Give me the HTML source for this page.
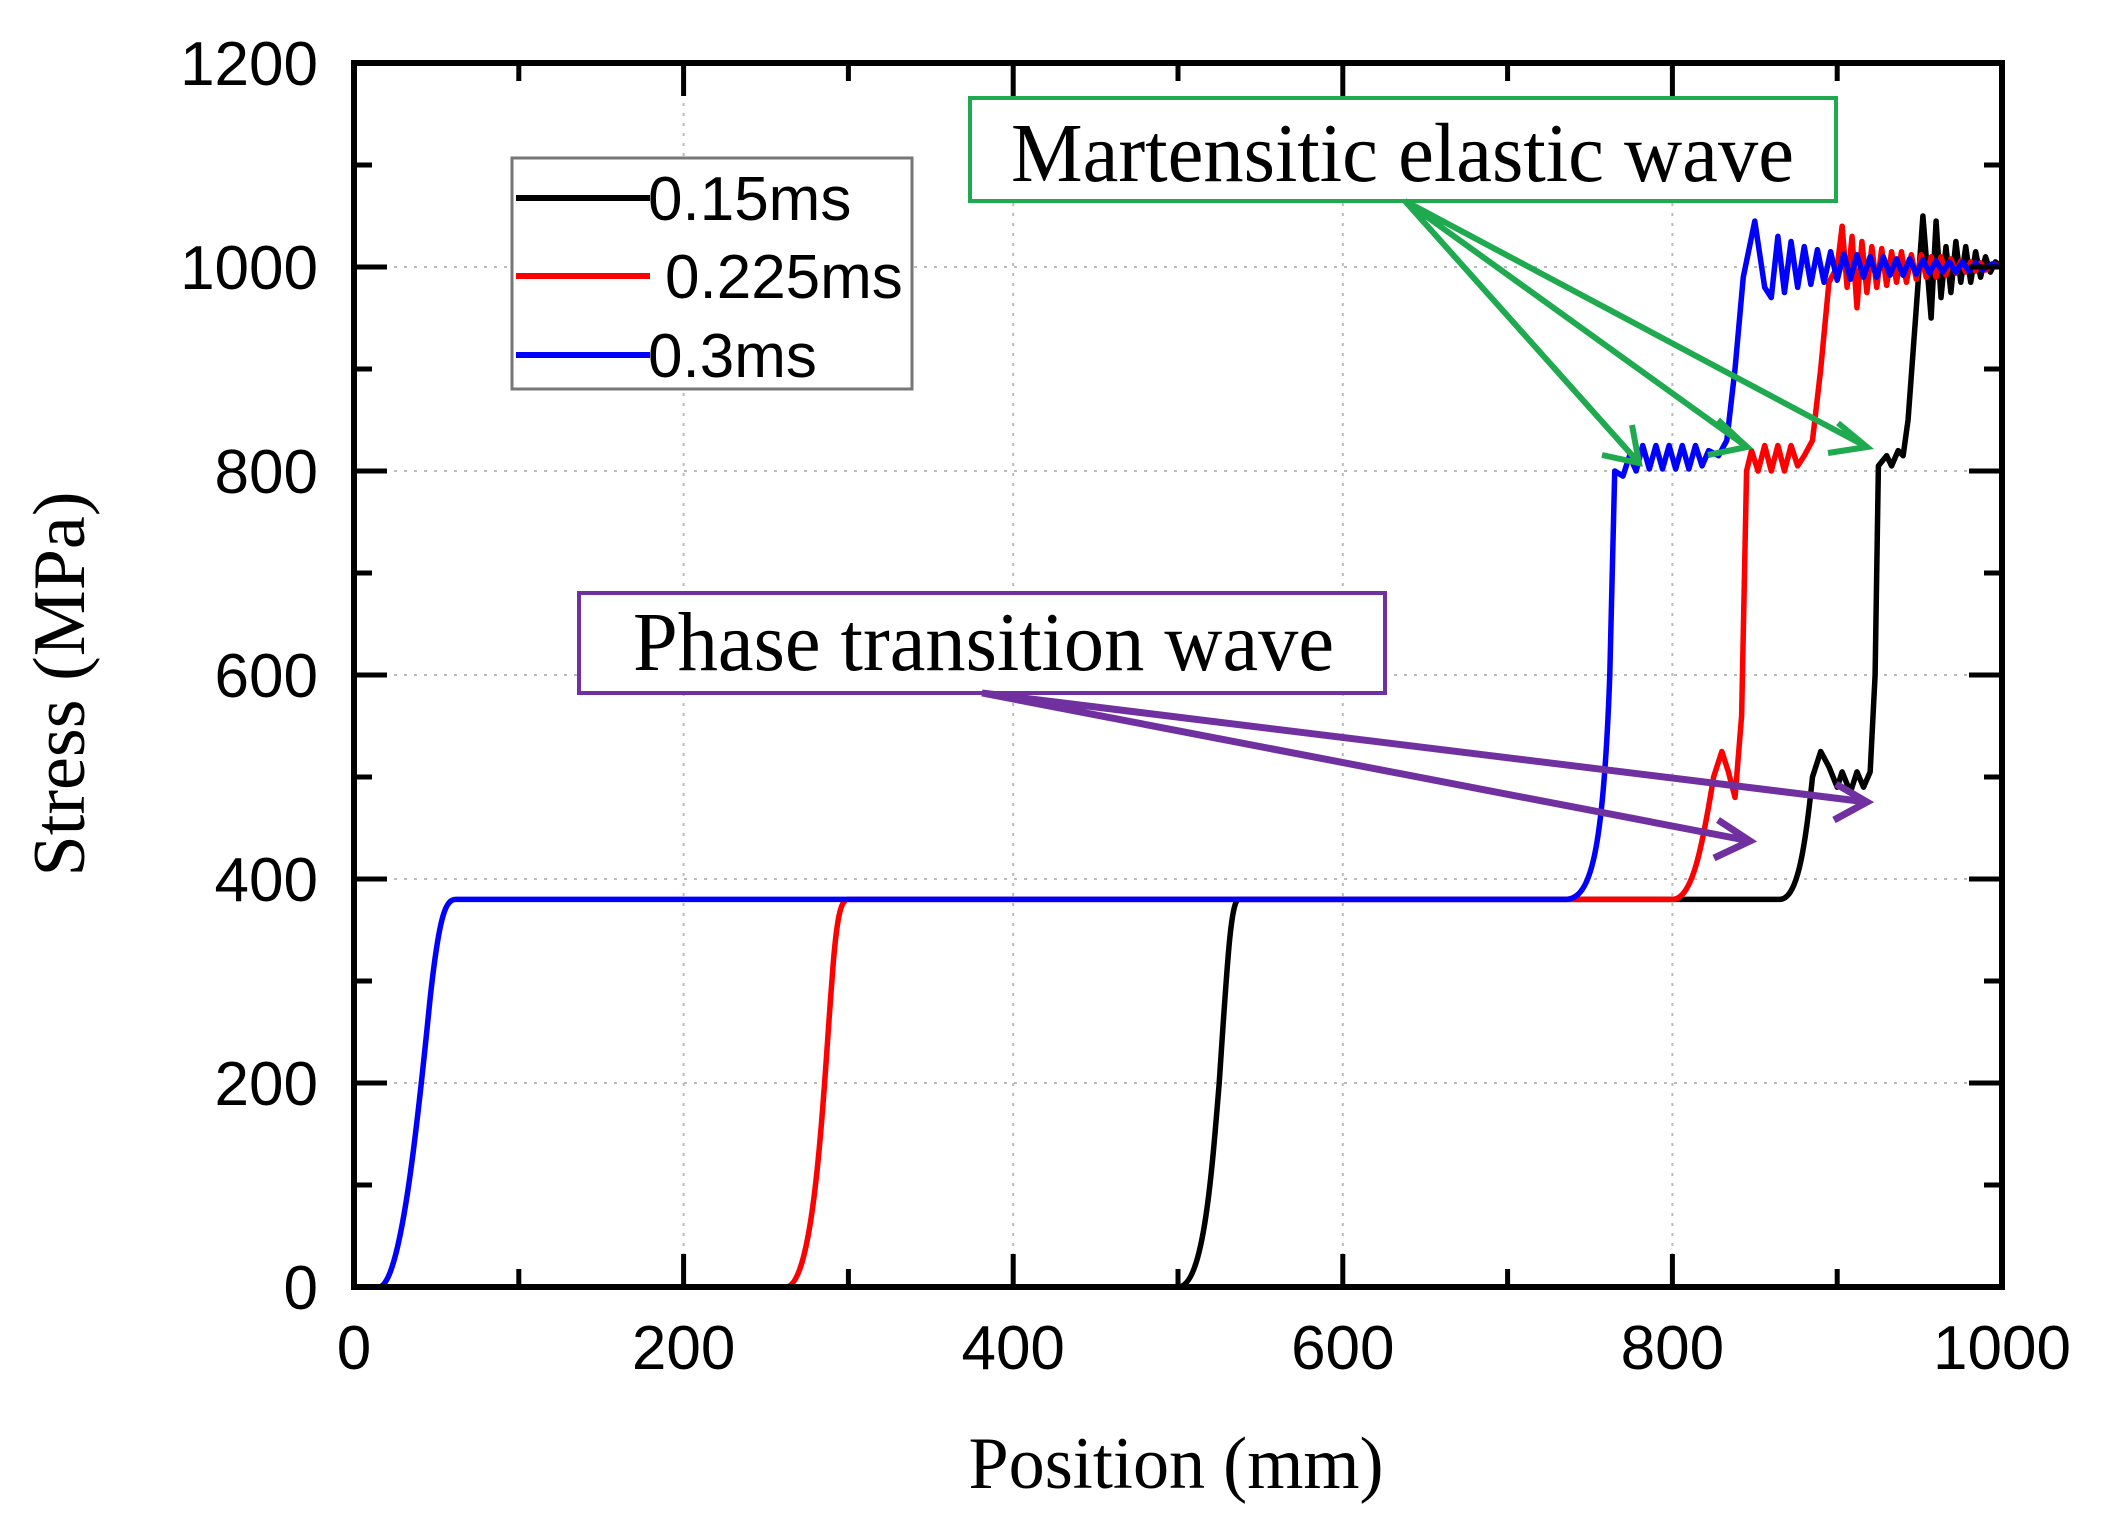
<!DOCTYPE html>
<html><head><meta charset="utf-8"><style>html,body{margin:0;padding:0;background:#fff}svg{display:block}</style></head>
<body>
<svg width="2103" height="1540" viewBox="0 0 2103 1540" xmlns="http://www.w3.org/2000/svg">
<rect width="2103" height="1540" fill="#fff"/>
<g stroke="#bbb" stroke-width="2" stroke-dasharray="3,7">
<line x1="683.6" y1="63" x2="683.6" y2="1287"/><line x1="1013.2" y1="63" x2="1013.2" y2="1287"/>
<line x1="1342.8" y1="63" x2="1342.8" y2="1287"/><line x1="1672.4" y1="63" x2="1672.4" y2="1287"/>
<line x1="354" y1="1083" x2="2002" y2="1083"/><line x1="354" y1="879" x2="2002" y2="879"/>
<line x1="354" y1="675" x2="2002" y2="675"/><line x1="354" y1="471" x2="2002" y2="471"/>
<line x1="354" y1="267" x2="2002" y2="267"/>
</g>
<g transform="translate(354,1287) scale(1.648,-1.02)" fill="none" stroke-width="5.5" stroke-linejoin="round">
<path vector-effect="non-scaling-stroke" stroke="#000" d="M0,0 L500,0 C515,0 520,100 525,200 C530,320 532,380 537,380 L865,380 C875,380 880,420 885,500 L890,525 L895,510 L900,490 L903,505 L908,485 L912,505 L916,490 L920,505 L923,600 L925,805 L930,815 L933,805 L937,820 L940,815 L943,850 L948,960 L952,1050 L955,990 L957,950 L960,1045 L963,970 L966,1020 L969,975 L972,1025 L975,985 L978,1020 L981,985 L984,1015 L987,990 L990,1010 L993,995 L996,1005 L1000,1000"/>
<path vector-effect="non-scaling-stroke" stroke="#f00" d="M0,0 L262,0 C280,0 285,200 290,300 C293,370 296,380 300,380 L800,380 C812,380 818,430 825,500 L830,525 L834,505 L838,480 L842,560 L845,800 L848,820 L852,800 L856,825 L860,800 L864,825 L868,800 L872,825 L876,805 L880,815 L885,830 L890,900 L895,985 L900,1000 L903,1040 L906,980 L909,1030 L912,960 L915,1025 L918,975 L921,1020 L924,980 L927,1018 L930,982 L933,1015 L936,985 L939,1015 L942,985 L945,1012 L948,988 L951,1012 L954,990 L957,1010 L960,990 L963,1010 L966,992 L969,1008 L972,994 L975,1006 L978,995 L981,1005 L984,996 L987,1004 L990,997 L995,1003 L1000,1000"/>
<path vector-effect="non-scaling-stroke" stroke="#00f" d="M0,0 L15,0 C28,0 38,150 46,280 C52,370 56,380 62,380 L735,380 C750,380 758,420 762,600 L765,800 L770,795 L774,815 L778,800 L782,825 L786,802 L790,825 L794,802 L798,825 L802,802 L806,825 L810,802 L814,825 L818,805 L822,820 L828,815 L833,830 L838,900 L843,990 L850,1045 L856,980 L860,970 L864,1030 L868,975 L872,1025 L876,980 L880,1020 L884,983 L888,1017 L892,985 L896,1015 L900,987 L904,1013 L908,988 L912,1012 L916,990 L920,1010 L924,990 L928,1010 L932,992 L936,1008 L940,992 L944,1008 L948,993 L952,1007 L956,994 L960,1006 L964,995 L968,1005 L972,995 L976,1005 L980,996 L984,1004 L988,997 L994,1003 L1000,1000"/>
</g>
<rect x="354" y="63" width="1648" height="1224" fill="none" stroke="#000" stroke-width="6"/>
<g stroke="#000" stroke-width="5">
<path d="M683.6,1287v-33M1013.2,1287v-33M1342.8,1287v-33M1672.4,1287v-33M518.8,1287v-18M848.4,1287v-18M1178,1287v-18M1507.6,1287v-18M1837.2,1287v-18"/>
<path d="M683.6,63v33M1013.2,63v33M1342.8,63v33M1672.4,63v33M518.8,63v18M848.4,63v18M1178,63v18M1507.6,63v18M1837.2,63v18"/>
<path d="M354,1083h33M354,879h33M354,675h33M354,471h33M354,267h33M354,1185h18M354,981h18M354,777h18M354,573h18M354,369h18M354,165h18"/>
<path d="M2002,1083h-33M2002,879h-33M2002,675h-33M2002,471h-33M2002,267h-33M2002,1185h-18M2002,981h-18M2002,777h-18M2002,573h-18M2002,369h-18M2002,165h-18"/>
</g>
<g font-family="Liberation Sans, sans-serif" font-size="62" fill="#000">
<g text-anchor="end">
<text x="318" y="1309">0</text><text x="318" y="1105">200</text><text x="318" y="901">400</text>
<text x="318" y="697">600</text><text x="318" y="493">800</text><text x="318" y="289">1000</text><text x="318" y="85">1200</text>
</g>
<g text-anchor="middle">
<text x="354" y="1369">0</text><text x="683.6" y="1369">200</text><text x="1013.2" y="1369">400</text>
<text x="1342.8" y="1369">600</text><text x="1672.4" y="1369">800</text><text x="2002" y="1369">1000</text>
</g>
</g>
<text x="1176" y="1488" text-anchor="middle" font-family="Liberation Serif, serif" font-size="74" textLength="415" lengthAdjust="spacingAndGlyphs">Position (mm)</text>
<text transform="translate(84,684) rotate(-90)" text-anchor="middle" font-family="Liberation Serif, serif" font-size="74" textLength="385" lengthAdjust="spacingAndGlyphs">Stress (MPa)</text>
<rect x="512" y="158" width="400" height="231" fill="#fff" stroke="#777" stroke-width="3"/>
<g stroke-width="6"><line x1="516" y1="198" x2="650" y2="198" stroke="#000"/><line x1="516" y1="276" x2="650" y2="276" stroke="#f00"/><line x1="516" y1="355" x2="650" y2="355" stroke="#00f"/></g>
<g font-family="Liberation Sans, sans-serif" font-size="62">
<text x="648" y="220">0.15ms</text><text x="665" y="298">0.225ms</text><text x="648" y="377">0.3ms</text>
</g>
<rect x="970" y="98" width="866" height="103" fill="#fff" stroke="#1faa4f" stroke-width="4"/>
<text x="1011" y="181" font-family="Liberation Serif, serif" font-size="84" textLength="783" lengthAdjust="spacingAndGlyphs">Martensitic elastic wave</text>
<g stroke="#1faa4f" stroke-width="6" fill="none">
<path d="M1405,201 L1639,463 M1405,201 L1747,447 M1405,201 L1867,447"/>
<path d="M1632,425 L1639,463 L1602,455 M1718,420 L1747,447 L1708,455 M1838,423 L1867,447 L1828,453"/>
</g>
<rect x="579" y="593" width="806" height="100" fill="#fff" stroke="#7030a0" stroke-width="4"/>
<text x="633" y="670" font-family="Liberation Serif, serif" font-size="84" textLength="701" lengthAdjust="spacingAndGlyphs">Phase transition wave</text>
<g stroke="#7030a0" stroke-width="7" fill="none">
<path d="M982,693 L1750,841 M982,693 L1867,802"/>
<path d="M1718,820 L1750,841 L1714,858 M1836,784 L1867,802 L1834,820"/>
</g>
</svg>
</body></html>
